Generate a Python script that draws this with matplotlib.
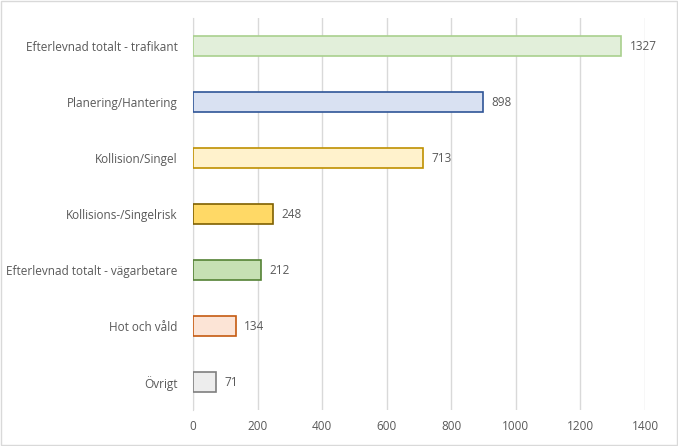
import matplotlib.pyplot as plt
from matplotlib.patches import Rectangle

# Data (top to bottom)
categories = ['Efterlevnad totalt - trafikant', 'Planering/Hantering', 'Kollision/Singel',
              'Kollisions-/Singelrisk', 'Efterlevnad totalt - vägarbetare', 'Hot och våld', 'Övrigt']
values = [1327, 898, 713, 248, 212, 134, 71]
fill_colors = ['#E2EFDA', '#D9E1F2', '#FFF2CC', '#FFD966', '#C6E0B4', '#FCE4D6', '#EDEDED']
edge_colors = ['#A9D08E', '#2F5597', '#BF9000', '#7F6000', '#548235', '#C55A11', '#7F7F7F']

plt.rcParams['font.family'] = ['Open Sans', 'DejaVu Sans']
text_color = '#595959'

fig = plt.figure(figsize=(6.78, 4.46), dpi=100)
ax = fig.add_axes([0.2847, 0.0807, 0.6666, 0.8789])

ypos = list(range(len(categories)))[::-1]
ax.barh(ypos, values, height=0.36, color=fill_colors, edgecolor=edge_colors, linewidth=1.2, zorder=3)

for y, v in zip(ypos, values):
    ax.text(v + 25, y, str(v), va='center', ha='left', fontsize=8.5, color=text_color)

ax.set_xlim(0, 1400)
ax.set_ylim(-0.5, len(categories) - 0.5)
ax.set_xticks(range(0, 1401, 200))
ax.set_yticks(ypos)
ax.set_yticklabels(categories)
ax.tick_params(axis='both', length=0, labelsize=8.5, colors=text_color)
ax.tick_params(axis='x', pad=7)
ax.tick_params(axis='y', pad=11)
ax.grid(axis='x', color='#D9D9D9', linewidth=1, zorder=0)
for s in ['top', 'right', 'bottom']:
    ax.spines[s].set_visible(False)
ax.spines['left'].set_color('#D9D9D9')

# light border around the chart area
fig.patches.append(Rectangle((0.002, 0.002), 0.996, 0.996, transform=fig.transFigure,
                             fill=False, edgecolor='#D9D9D9', linewidth=1))

fig.savefig('out.png', dpi=100)
